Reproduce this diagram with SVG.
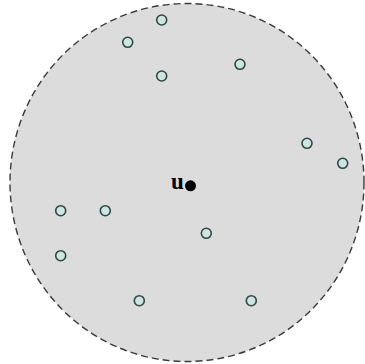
<svg xmlns="http://www.w3.org/2000/svg" width="365" height="364" viewBox="0 0 365 364">
<style>
.p{fill:#cfe5e2;stroke:#2e4846;stroke-width:1.6}
.lbl{font-family:"Liberation Serif",serif;font-weight:bold;font-size:23px;fill:#000}
</style>
<rect width="365" height="364" fill="#fff"/>
<g id="region"><ellipse cx="187" cy="182.5" rx="177" ry="179" fill="#dcdcdc" stroke="#3a3a3a" stroke-width="1.4" stroke-dasharray="7,4"/></g>
<g id="connectors"></g>
<g id="n1"><circle class="p" cx="161.7" cy="20" r="5"/></g>
<g id="n2"><circle class="p" cx="127.7" cy="42.3" r="5"/></g>
<g id="n3"><circle class="p" cx="161.7" cy="76" r="5"/></g>
<g id="n4"><circle class="p" cx="240" cy="64.3" r="5"/></g>
<g id="n5"><circle class="p" cx="307" cy="143.3" r="5"/></g>
<g id="n6"><circle class="p" cx="342.7" cy="163.3" r="5"/></g>
<g id="n7"><circle class="p" cx="60.7" cy="210.7" r="5"/></g>
<g id="n8"><circle class="p" cx="105.3" cy="210.7" r="5"/></g>
<g id="n9"><circle class="p" cx="206.3" cy="233.3" r="5"/></g>
<g id="n10"><circle class="p" cx="60.7" cy="255.7" r="5"/></g>
<g id="n11"><circle class="p" cx="139.3" cy="300.7" r="5"/></g>
<g id="n12"><circle class="p" cx="251.3" cy="300.7" r="5"/></g>
<g id="u"><text class="lbl" x="171" y="189">u</text><circle cx="190.5" cy="185.8" r="5.5" fill="#000"/></g>
</svg>
